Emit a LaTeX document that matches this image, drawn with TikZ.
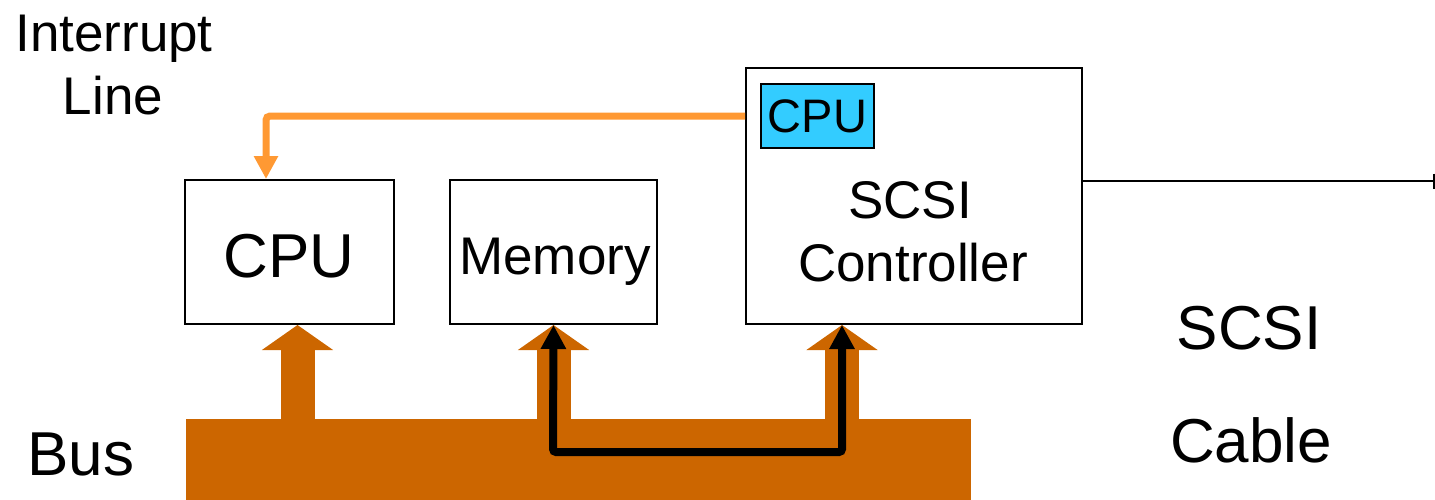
\documentclass[tikz,border=0pt]{standalone}
\usepackage{fontspec}
\setmainfont{Liberation Sans}
\usetikzlibrary{arrows.meta}
\definecolor{buscol}{HTML}{CC6600}
\definecolor{intcol}{HTML}{FF9933}
\definecolor{cpublue}{HTML}{33CCFF}
\tikzset{
  box/.style={draw, line width=2pt, fill=white, inner sep=0pt},
  bigfont/.style={font=\fontsize{62pt}{70pt}\selectfont},
  midfont/.style={font=\fontsize{53pt}{60pt}\selectfont},
  smallfont/.style={font=\fontsize{47pt}{56pt}\selectfont},
  busarrow/.style={buscol, line width=34pt, -{Triangle[width=70pt,length=25pt]}},
  dataarrow/.style={black, line width=8pt, rounded corners=3pt, {Triangle[width=24pt,length=24pt]}-{Triangle[width=24pt,length=24pt]}},
  intarrow/.style={intcol, line width=7pt, rounded corners=4pt, -{Triangle[width=23pt,length=23pt]}},
  lbl/.style={anchor=base, inner sep=0pt}
}
\begin{document}
\begin{tikzpicture}[x=1pt,y=-1pt]
\useasboundingbox (0,0) rectangle (1435,499);
% bus
\node[fill=buscol, minimum width=785pt, minimum height=82pt, inner sep=0pt, anchor=north west] (bus) at (186,419) {};
% boxes
\node[box, minimum width=209pt, minimum height=144pt] (cpu) at (289.5,252) {};
\node[lbl, bigfont] (cputxt) at (289,277) {CPU};
\node[box, minimum width=207pt, minimum height=144pt] (mem) at (553.5,252) {};
\node[lbl, midfont] (memtxt) at (555,274) {Memory};
\node[box, minimum width=336pt, minimum height=256pt] (scsi) at (914,196) {};
\node[draw, line width=1.5pt, fill=cpublue, minimum width=113pt, minimum height=64pt, inner sep=0pt, smallfont] (cpuin) at (817.5,116) {CPU};
\node[lbl, midfont] (scsit1) at (910,218) {SCSI};
\node[lbl, midfont] (scsit2) at (913,281) {Controller};
% labels
\node[lbl, midfont] (int1) at (114,51) {Interrupt};
\node[lbl, midfont] (int2) at (113,114) {Line};
\node[lbl, bigfont] (bustxt) at (81,475) {Bus};
\node[lbl, bigfont] (cab1) at (1249,349) {SCSI};
\node[lbl, bigfont] (cab2) at (1251,462) {Cable};
% bus arrows
\draw[busarrow] ([xshift=8pt]cpu.south |- bus.north) ++(0,6) -- ([xshift=8pt]cpu.south);
\draw[busarrow] (mem.south |- bus.north) ++(0,6) -- (mem.south);
\draw[busarrow] ([xshift=-72pt]scsi.south |- bus.north) ++(0,6) -- ([xshift=-72pt]scsi.south);
% data path
\coordinate (dl) at (553,452);
\coordinate (dr) at (842,452);
\draw[dataarrow] (mem.south) -- (dl) -- (dr) -- ([xshift=-72pt]scsi.south);
% interrupt line
\draw[intarrow] (scsi.west |- cpuin.center) -| ([xshift=-23.5pt]cpu.north);
% cable
\coordinate (cableend) at (1435,181);
\draw[line width=2.5pt, -{Bar[width=15pt]}] (scsi.east |- cableend) -- (cableend);
\end{tikzpicture}
\end{document}
